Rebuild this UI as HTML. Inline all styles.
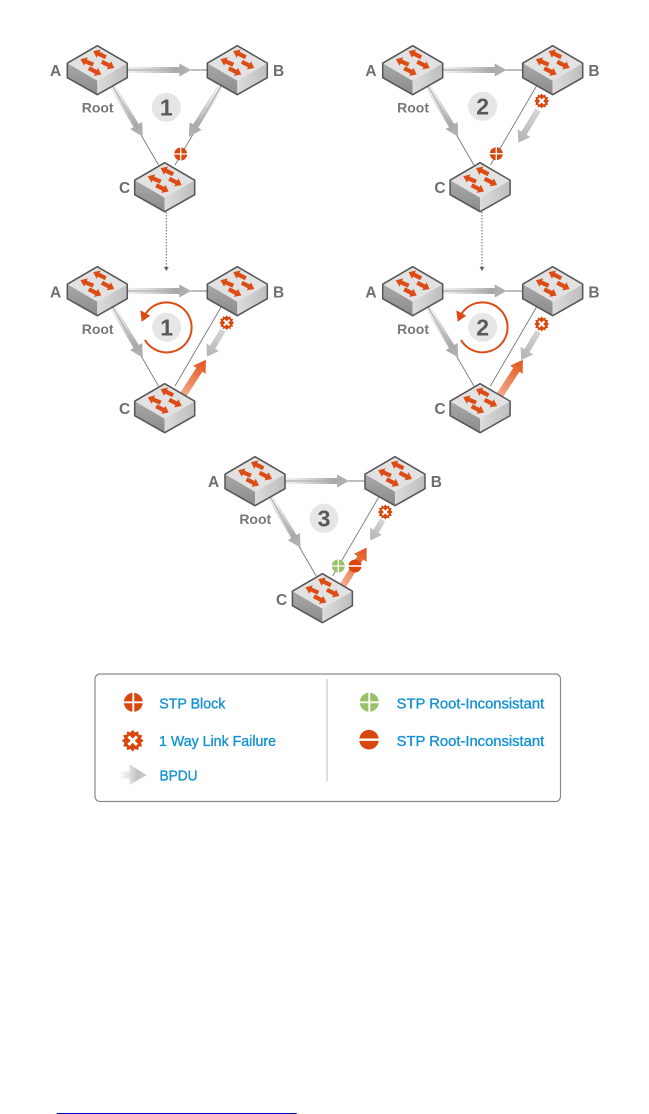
<!DOCTYPE html>
<html>
<head>
<meta charset="utf-8">
<style>
html,body{margin:0;padding:0;background:#fff;}
svg{display:block;}
.l{font-family:"Liberation Sans",sans-serif;font-weight:bold;font-size:15.5px;fill:#6d6e71;}
.r{font-family:"Liberation Sans",sans-serif;font-weight:bold;font-size:14px;fill:#77787b;}
.n{font-family:"Liberation Sans",sans-serif;font-weight:bold;font-size:23px;fill:#58595b;text-anchor:middle;}
.t{font-family:"Liberation Sans",sans-serif;font-size:14.5px;fill:#1492d4;stroke:#1492d4;stroke-width:.35px;}
</style>
</head>
<body>
<svg width="649" height="1114" viewBox="0 0 649 1114" xmlns="http://www.w3.org/2000/svg">
<defs>
<linearGradient id="gB" x1="0" x2="1" y1="0" y2="0"><stop offset="0" stop-color="#d8d8d8" stop-opacity=".35"/><stop offset=".75" stop-color="#a9a9a9"/><stop offset="1" stop-color="#b4b4b4"/></linearGradient>
<linearGradient id="gL2" x1="0" x2="1" y1="0" y2="0"><stop offset="0" stop-color="#e8e8e8" stop-opacity=".4"/><stop offset=".6" stop-color="#c4c4c4"/><stop offset="1" stop-color="#c8c8c8"/></linearGradient>
<linearGradient id="gF" x1="0" x2="1" y1="0" y2="0"><stop offset="0" stop-color="#d6d6d6"/><stop offset="1" stop-color="#b3b3b3"/></linearGradient>
<linearGradient id="gO" x1="0" x2="1" y1="0" y2="0"><stop offset="0" stop-color="#f2ab8c"/><stop offset=".8" stop-color="#e4632c"/><stop offset="1" stop-color="#e05420"/></linearGradient>
<linearGradient id="gL" x1="0" x2="0" y1="0" y2="1"><stop offset="0" stop-color="#a8a8a8"/><stop offset="1" stop-color="#8c8c8c"/></linearGradient>
<linearGradient id="gR" x1="0" x2="1" y1="0" y2="0"><stop offset="0" stop-color="#dcdcdc"/><stop offset="1" stop-color="#bdbdbd"/></linearGradient>
<g id="oa"><path d="M0,-2.1 H8 V-4.6 L14,0 L8,4.6 V2.1 H0 Z" fill="#dd4c14"/></g>
<g id="sw">
<path d="M0,0 L30,17.5 L0,35 L-30,17.5 Z" fill="#e2e2e2"/>
<path d="M-30,17.5 L0,35 V49 L-30,32 Z" fill="url(#gL)"/>
<path d="M30,17.5 L0,35 V49 L30,32 Z" fill="url(#gR)"/>
<path d="M0,0 L30,17.5 V32 L0,49 L-30,32 V17.5 Z" fill="none" stroke="#555" stroke-width="1.5" stroke-linejoin="round"/>
<use href="#oa" transform="translate(8.5,11.5) rotate(-154)"/>
<use href="#oa" transform="translate(-4,19) rotate(-157)"/>
<use href="#oa" transform="translate(4.5,16) rotate(27)"/>
<use href="#oa" transform="translate(-8.5,22.5) rotate(27)"/>
</g>
<g id="block"><circle r="10" fill="#d9470f"/><path d="M0,-10.5 V10.5 M-10.5,0 H10.5" stroke="#fff" stroke-width="2"/></g>
<g id="green"><circle r="10" fill="#9bc06a"/><path d="M0,-10.5 V10.5 M-10.5,0 H10.5" stroke="#fff" stroke-width="2"/></g>
<g id="stop"><circle r="10" fill="#d9470f"/><path d="M-10.5,0 H10.5" stroke="#fff" stroke-width="2.4"/></g>
<g id="star"><polygon fill="#d9470f" points="11,0 8.2,2.2 9.5,5.5 6,6 5.5,9.5 2.2,8.2 0,11 -2.2,8.2 -5.5,9.5 -6,6 -9.5,5.5 -8.2,2.2 -11,0 -8.2,-2.2 -9.5,-5.5 -6,-6 -5.5,-9.5 -2.2,-8.2 0,-11 2.2,-8.2 5.5,-9.5 6,-6 9.5,-5.5 8.2,-2.2"/><path d="M-4.2,-4.2 L4.2,4.2 M4.2,-4.2 L-4.2,4.2" stroke="#fff" stroke-width="3"/></g>
<g id="base">
<path d="M0,14 L61.2,119.3 M124.4,39.3 L77.7,119.3 M0,24.3 H140" fill="none" stroke="#77787b" stroke-width=".9"/>
<path d="M0,-3 H52 V-6.5 L64,0 L52,6.5 V3 H0 Z" fill="url(#gB)" transform="translate(30,24.3)"/>
</g>
<g id="acArrow"><path d="M0,-3 H45 V-7 L58,0 L45,7 V3 H0 Z" fill="url(#gB)" transform="translate(15.7,41.3) rotate(59)"/></g>
<g id="sws"><use href="#sw"/><use href="#sw" x="140"/><use href="#sw" x="67.4" y="117"/></g>
</defs>

<rect width="649" height="1114" fill="#fff"/>

<!-- Panel 1 top -->
<g transform="translate(97.3,45.7)">
<use href="#base"/><use href="#acArrow"/>
<path d="M0,-3 H46 V-7 L59,0 L46,7 V3 H0 Z" fill="url(#gB)" transform="translate(122.7,41.3) rotate(122)"/>
<use href="#sws"/>
<use href="#block" transform="translate(83.4,108.3) scale(.65)"/>
<circle cx="69" cy="61.6" r="14.5" fill="#e6e6e6"/><text class="n" x="69" y="70">1</text>
<text class="l" x="-47.3" y="30.3">A</text><text class="l" x="175.7" y="30.3">B</text><text class="l" x="21.7" y="147.3">C</text><text class="r" x="-15.6" y="67">Root</text>
</g>

<!-- Panel 2 top -->
<g transform="translate(412.7,45.7)">
<use href="#base"/><use href="#acArrow"/>
<path d="M0,-3 H27 V-7.5 L38,0 L27,7.5 V3 H0 Z" fill="url(#gF)" transform="translate(125.3,64.3) rotate(121)"/>
<use href="#sws"/>
<use href="#block" transform="translate(83.6,108) scale(.65)"/>
<use href="#star" transform="translate(129,55.3) scale(.68)"/>
<circle cx="70" cy="60.6" r="14.5" fill="#e6e6e6"/><text class="n" x="70" y="69">2</text>
<text class="l" x="-47.3" y="30.3">A</text><text class="l" x="175.7" y="30.3">B</text><text class="l" x="21.7" y="147.3">C</text><text class="r" x="-15.6" y="67">Root</text>
</g>

<!-- Dotted connectors -->
<g stroke="#666" stroke-width="1" stroke-dasharray="1.5 1.5" fill="none"><path d="M166.3,212 V268"/><path d="M482,212 V268"/></g>
<path d="M163.8,267 H168.8 L166.3,271 Z M479.5,267 H484.5 L482,271 Z" fill="#666"/>

<!-- Panel 1 bottom -->
<g transform="translate(97.3,266.7)">
<use href="#base"/><use href="#acArrow"/>
<path d="M0,-3 H20 V-7.5 L31,0 L20,7.5 V3 H0 Z" fill="url(#gF)" transform="translate(125.7,63.3) rotate(121)"/>
<path d="M0,-3.6 H30 V-7.5 L42,0 L30,7.5 V3.6 H0 Z" fill="url(#gO)" transform="translate(85.7,128.3) rotate(-57)"/>
<use href="#sws"/>
<use href="#star" transform="translate(129.4,56) scale(.68)"/>
<circle cx="69.4" cy="60.6" r="14.5" fill="#e6e6e6"/><text class="n" x="69.4" y="69">1</text>
<path d="M47.7,73.3 A25,25 0 1 0 46.5,50.5" fill="none" stroke="#dd4c14" stroke-width="2"/>
<path d="M44.4,55 L43,43.5 L53,49 Z" fill="#dd4c14"/>
<text class="l" x="-47.3" y="31">A</text><text class="l" x="175.7" y="31">B</text><text class="l" x="21.7" y="147.3">C</text><text class="r" x="-15.6" y="67.3">Root</text>
</g>

<!-- Panel 2 bottom -->
<g transform="translate(412.7,266.7)">
<use href="#base"/><use href="#acArrow"/>
<path d="M0,-3 H22 V-7.5 L33,0 L22,7.5 V3 H0 Z" fill="url(#gF)" transform="translate(125.6,65) rotate(121)"/>
<path d="M0,-3.6 H30 V-7.5 L42,0 L30,7.5 V3.6 H0 Z" fill="url(#gO)" transform="translate(87.3,128.3) rotate(-57)"/>
<use href="#sws"/>
<use href="#star" transform="translate(129,57.3) scale(.68)"/>
<circle cx="70" cy="60.6" r="14.5" fill="#e6e6e6"/><text class="n" x="70" y="69">2</text>
<path d="M48.3,73.3 A25,25 0 1 0 47,50.5" fill="none" stroke="#dd4c14" stroke-width="2"/>
<path d="M45,55 L43.6,43.5 L53.6,49 Z" fill="#dd4c14"/>
<text class="l" x="-47.3" y="31">A</text><text class="l" x="175.7" y="31">B</text><text class="l" x="21.7" y="147.3">C</text><text class="r" x="-15.6" y="67.3">Root</text>
</g>

<!-- Panel 3 -->
<g transform="translate(255,456.7)">
<use href="#base"/><use href="#acArrow"/>
<path d="M0,-3 H13 V-7 L24,0 L13,7 V3 H0 Z" fill="url(#gF)" transform="translate(127.7,63.3) rotate(121)"/>
<path d="M0,-3.4 H32 V-7.5 L44,0 L32,7.5 V3.4 H0 Z" fill="url(#gO)" transform="translate(88.3,128.3) rotate(-58)"/>
<use href="#sws"/>
<use href="#green" transform="translate(83.3,109.3) scale(.65)"/>
<use href="#stop" transform="translate(100,109.3) scale(.65)"/>
<use href="#star" transform="translate(130.3,55.3) scale(.68)"/>
<circle cx="69" cy="61.6" r="14.5" fill="#e6e6e6"/><text class="n" x="69" y="70">3</text>
<text class="l" x="-47" y="30.3">A</text><text class="l" x="175.7" y="30.3">B</text><text class="l" x="21" y="148.3">C</text><text class="r" x="-15.7" y="67.3">Root</text>
</g>

<!-- Legend -->
<rect x="95" y="674" width="465.5" height="127.5" rx="5" fill="#fff" stroke="#8a8a8a" stroke-width="1.2"/>
<path d="M327,679 V781.5" stroke="#bbb" stroke-width="1"/>
<use href="#block" transform="translate(133.3,702.3) scale(.95)"/>
<use href="#star" transform="translate(132.7,740.7)"/>
<path d="M121,771.5 H129.5 V764.5 L146.7,775 L129.5,785 V778.5 H121 Z" fill="url(#gL2)"/>
<use href="#green" transform="translate(369.3,702.3) scale(.95)"/>
<use href="#stop" transform="translate(369,739.7) scale(.98)"/>
<text class="t" x="159.3" y="708.7" textLength="66" lengthAdjust="spacingAndGlyphs">STP Block</text>
<text class="t" x="159" y="746" textLength="117" lengthAdjust="spacingAndGlyphs">1 Way Link Failure</text>
<text class="t" x="159.5" y="780.7" textLength="38" lengthAdjust="spacingAndGlyphs">BPDU</text>
<text class="t" x="396.7" y="708.7" textLength="147.5" lengthAdjust="spacingAndGlyphs">STP Root-Inconsistant</text>
<text class="t" x="396.7" y="746" textLength="147.5" lengthAdjust="spacingAndGlyphs">STP Root-Inconsistant</text>

<!-- Bottom rule -->
<rect x="56.7" y="1113" width="240" height="1" fill="#0000c0"/>
</svg>
</body>
</html>
